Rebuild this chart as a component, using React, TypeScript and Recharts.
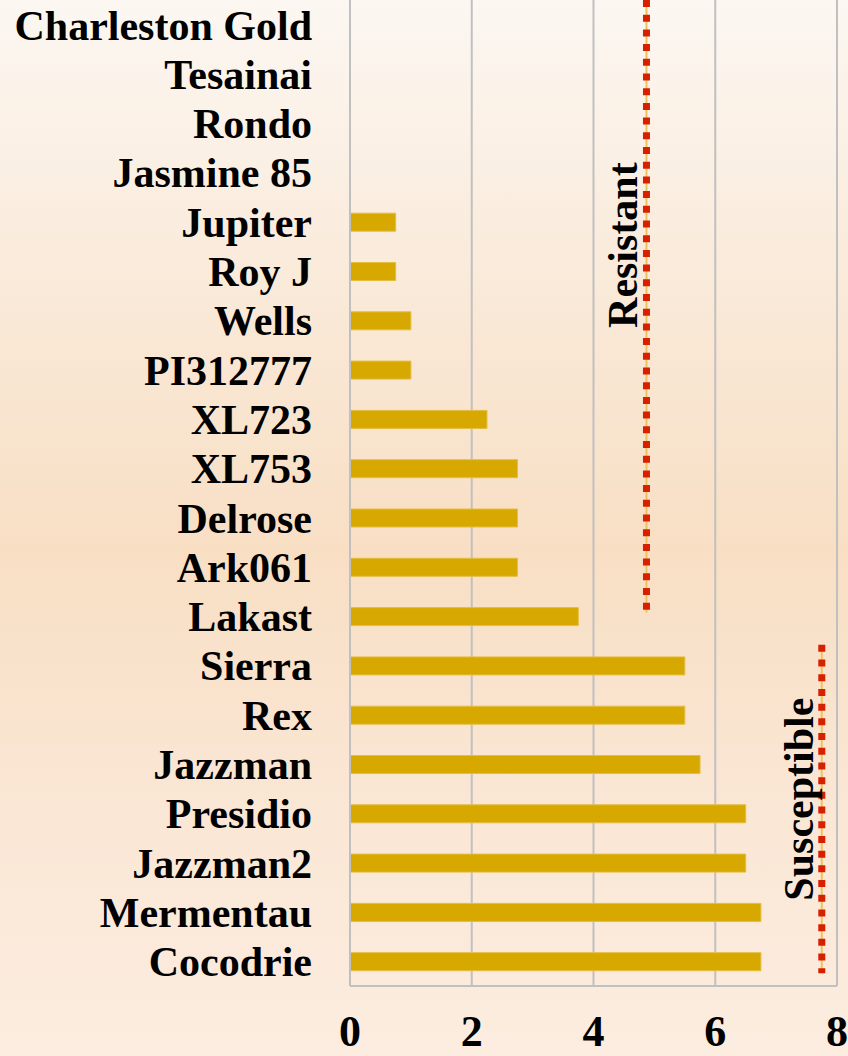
import React from 'react';
import {
  BarChart,
  Bar,
  ComposedChart,
  XAxis,
  YAxis,
  CartesianGrid,
  ReferenceLine,
} from 'recharts';

// Varieties, listed top to bottom as drawn
const varieties = [
  'Charleston Gold',
  'Tesainai',
  'Rondo',
  'Jasmine 85',
  'Jupiter',
  'Roy J',
  'Wells',
  'PI312777',
  'XL723',
  'XL753',
  'Delrose',
  'Ark061',
  'Lakast',
  'Sierra',
  'Rex',
  'Jazzman',
  'Presidio',
  'Jazzman2',
  'Mermentau',
  'Cocodrie',
];

// Disease rating per variety
const ratings = [0, 0, 0, 0, 0.75, 0.75, 1, 1, 2.25, 2.75, 2.75, 2.75, 3.75, 5.5, 5.5, 5.75, 6.5, 6.5, 6.75, 6.75];

const xTicks = [0, 2, 4, 6, 8];

// Threshold lines: x value and extent in rows counted from the top (0 = top edge, 20 = bottom edge)
const resistantLine = { x: 4.87, from: 0, to: 12.43, label: 'Resistant' };
const susceptibleLine = { x: 7.75, from: 13.08, to: 19.74, label: 'Susceptible' };

const ROWS = varieties.length;
const W = 848;
const H = 1056;
const MARGIN = { top: 0, right: 11, bottom: 0, left: 0 };
const Y_AXIS_W = 350;
const X_AXIS_H = 70;
const FONT = '"Liberation Serif", "Times New Roman", serif';

const data = varieties.map((name, i) => ({ name, rating: ratings[i] }));
const thresholdData = [resistantLine, susceptibleLine].flatMap((l) => [
  { x: l.x, y: l.from },
  { x: l.x, y: l.to },
]);

function sideLabel(text: string, along: number) {
  return ({ viewBox }: any) => {
    if (!viewBox) return null;
    const cx = viewBox.x - 23;
    const cy = viewBox.y + viewBox.height * along;
    return (
      <text
        x={cx}
        y={cy}
        transform={`rotate(-90 ${cx} ${cy})`}
        textAnchor="middle"
        dominantBaseline="central"
        fontFamily={FONT}
        fontWeight="bold"
        fontSize={42}
        fill="#000"
      >
        {text}
      </text>
    );
  };
}

function thresholdLines(line: typeof resistantLine, along: number) {
  const segment = [
    { x: line.x, y: line.from },
    { x: line.x, y: line.to },
  ];
  return [
    <ReferenceLine
      key={line.label + '-base'}
      segment={segment}
      stroke="#efc35a"
      strokeWidth={2}
      ifOverflow="visible"
    />,
    <ReferenceLine
      key={line.label + '-dots'}
      segment={segment}
      stroke="#d62000"
      strokeWidth={7}
      strokeDasharray="7 7.7"
      ifOverflow="visible"
      label={sideLabel(line.label, along)}
    />,
  ];
}

export default function App() {
  return (
    <div
      style={{
        position: 'absolute',
        left: 0,
        top: 0,
        width: W,
        height: H,
        background: 'linear-gradient(to bottom, #fcf7f2 0%, #f9e6d2 35%, #f8dfc4 52%, #fae6d4 75%, #fcede0 100%)',
      }}
    >
      <BarChart width={W} height={H} data={data} layout="vertical" margin={MARGIN}>
        <CartesianGrid horizontal={false} stroke="#c0c0c0" strokeWidth={2} />
        <XAxis
          type="number"
          domain={[0, 8]}
          ticks={xTicks}
          interval={0}
          height={X_AXIS_H}
          tickLine={false}
          axisLine={{ stroke: '#c0c0c0', strokeWidth: 2 }}
          tickMargin={23}
          tick={{ fill: '#000', fontSize: 44, fontWeight: 'bold', fontFamily: FONT }}
        />
        <YAxis
          type="category"
          dataKey="name"
          width={Y_AXIS_W}
          interval={0}
          tickLine={false}
          tickMargin={32}
          axisLine={{ stroke: '#c0c0c0', strokeWidth: 2 }}
          tick={{ fill: '#000', fontSize: 42, fontWeight: 'bold', fontFamily: FONT }}
        />
        <Bar
          dataKey="rating"
          fill="#d6a800"
          stroke="#e4be40"
          strokeWidth={1}
          barSize={18}
          isAnimationActive={false}
        />
      </BarChart>

      {/* overlay with the same plot area, numeric on both axes, for the threshold lines */}
      <div style={{ position: 'absolute', left: 0, top: 0, pointerEvents: 'none' }}>
        <ComposedChart
          width={W}
          height={H}
          data={thresholdData}
          margin={{
            top: MARGIN.top,
            right: MARGIN.right,
            bottom: MARGIN.bottom + X_AXIS_H,
            left: MARGIN.left + Y_AXIS_W,
          }}
        >
          <XAxis dataKey="x" type="number" domain={[0, 8]} allowDataOverflow hide />
          <YAxis dataKey="y" type="number" domain={[0, ROWS]} allowDataOverflow reversed hide />
          {thresholdLines(resistantLine, 0.4)}
          {thresholdLines(susceptibleLine, 0.47)}
        </ComposedChart>
      </div>
    </div>
  );
}
